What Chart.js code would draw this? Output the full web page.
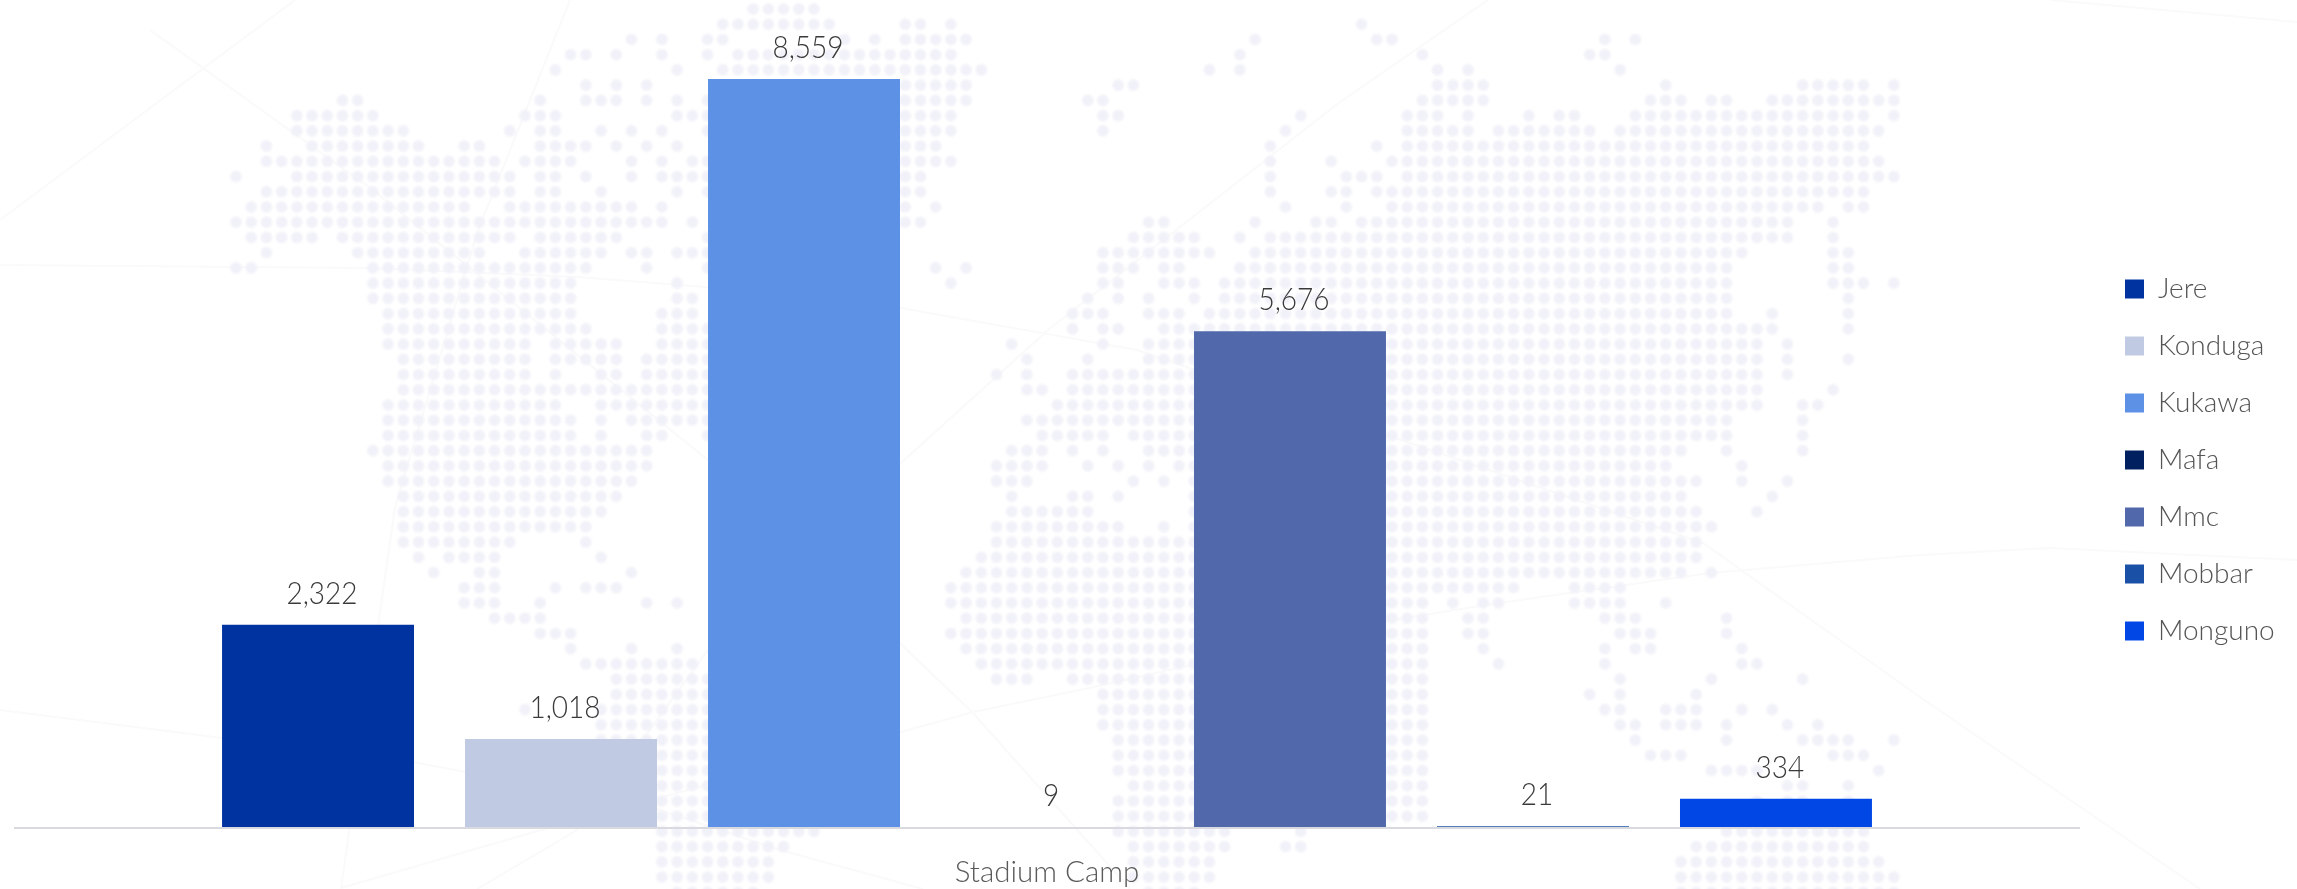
<!DOCTYPE html>
<html><head><meta charset="utf-8">
<style>html,body{margin:0;padding:0;background:#fff}canvas{display:block}</style>
<script src="https://cdn.jsdelivr.net/npm/chart.js@4"></script>
</head><body><canvas id="c" width="2297" height="889"></canvas>
<script>
const categories = ['Stadium Camp'];
const seriesNames = ['Jere','Konduga','Kukawa','Mafa','Mmc','Mobbar','Monguno'];
const seriesValues = [2322,1018,8559,9,5676,21,334];
const seriesColors = ['#0033a0','#c1cae3','#5c91e6','#00205f','#5168ab','#1a50a5','#0047e6'];
const FONT = 'Lato';

// decorative dotted world map behind the chart: occupied columns per row
const mapRows = [
"34-38","32-39 44-45 47 74","26 28 31-32 40 42 44-48 67 75-76 90 92","22-23 25 28 31 33-47 66 78 89-90",
"21 29 32-49 64 66 79 81 91","23 25 27 44-48 58-59 79-82 94 103-107 109","7-8 20 23-25 27 29 31 44-48 56-57 78-82 93-95 97-98 101-109",
"4-9 19-21 29-31 44-47 57-58 70 77-79 81 85 87-88 92-107 109","4-11 18 20-21 24 26 28 31 44-47 57 69 77-81 83-89 91-108",
"2 5-12 15-16 20-23 25 27 29 44-46 68 75 77-107","2-17 19-22 26 28 30-31 44-47 68 72 76-108","0 4-18 20-21 23 26 28-31 44-45 68 73-75 77-109",
"2-18 20-21 24 29 31 44-45 68 72-73 75-107","1-15 18-26 28 44 46 69 73 76-104 106-107","0-28 30 44-45 60-61 67 71-72 74-102 105",
"1-5 7-18 20-25 31 59-63 66 68-102 105","2 8-16 19-24 26-27 29-31 57-64 67-99 105-106","0-1 9-23 27 31 46 48 57-59 61-62 66-98 105-106",
"9-22 29 47 57-58 61-63 65-98 105-107 109","9-22 29-30 56 58 60 63 65-98 106","10-22 28-30 55-57 60-62 64-98 101 106",
"10-23 28-31 55 57-58 61-101 106","10-19 21-25 28-31 51 57 60-100 102","11-19 21-25 27-31 52 56 60-100 102 106",
"11-19 21 24-25 27-31 50 52 55-100 102","11-31 52-53 55-100 105","10-21 24-31 54-100 103-104","10-22 24 26-31 52-98 103","10-22 24 27-28 31 53-57 59-98 103",
"9-27 51-53 55 57 60-95 98 103","10-27 50-53 56 58 60 62-94 99","10-26 50-52 59 61 63-96 99 102","11-25 51 55-56 58 63-95 101",
"11-24 51-56 63-96 100","11-23 50-58 61 63-97","11-18 23 50-96","12 14-17 24 49-96","13 16-17 26 48-95 97","15-17 21 23-25 47-84 88-91",
"15-17 20 27 29 47-78 80 82-83 88-91 94","17-20 48-78 81-82 90-92 98","20-22 47-78 81-82 91-93 98","22 26 29 48-78 82 90 92-93 99","23-30 49-78 83 90 99-100",
"25-31 50-52 55-78 91 97 103","25-31 57-78 89 91 96","19 24-31 57-78 90-91 94-96 99 101","24-31 57-78 91-92 94-96 98 102 104","24-31 58-78 92 98 103-106 109",
"28-31 58-78 93-95 105-107","28-31 58-78 97-100 108","28-31 59-78 102-103 106","28-31 58-78 100 102-103 106","28-31 58-78",
"28-38 58-65 70 98-107","28-36 59-65 69-70 96-107","28-35 59-64 95-108","28-35 59-64 95-109","29-34 60-63 95-109"];

// decorative faint curves behind the map
const bgLines = [
 [[0,220],[295,0]],
 [[150,30],[373,190],[708,460],[973,713],[1130,889]],
 [[570,0],[477,233],[395,507],[341,889]],
 [[0,265],[370,268],[577,277],[706,287],[901,308],[1137,350],[1703,543],[1920,697],[2200,889]],
 [[477,889],[577,830],[708,650],[901,463],[1048,330],[1340,102],[1488,0]],
 [[341,888],[541,830],[901,732],[973,712],[1094,687],[1386,621],[1499,603],[1710,573],[1920,555],[2050,548],[2297,560]],
 [[2051,0],[2297,22]],
 [[0,710],[413,762],[466,772],[645,805],[780,850],[923,889]]
];

const backdrop = {
  id:'backdrop',
  beforeDraw(chart){
    const g = chart.ctx;
    g.save();
    g.fillStyle='#ffffff'; g.fillRect(0,0,chart.width,chart.height);
    g.strokeStyle='#fafafb'; g.lineWidth=2;
    bgLines.forEach(l=>{g.beginPath();l.forEach((p,i)=>i?g.lineTo(p[0],p[1]):g.moveTo(p[0],p[1]));g.stroke();});
    g.filter='blur(0.8px)';
    g.fillStyle='#f1f1f9';
    g.beginPath();
    mapRows.forEach((row,r)=>{
      row.split(' ').forEach(span=>{
        const [a,b]=span.split('-').map(Number);
        for(let c=a;c<=(b===undefined?a:b);c++){
          const x=236+c*15.21,y=9+r*15.23;
          g.moveTo(x+5.8,y);g.arc(x,y,5.8,0,Math.PI*2);
        }
      });
    });
    g.fill();
    g.restore();
  }
};

const valueLabels = {
  id:'valueLabels',
  afterDatasetsDraw(chart){
    const g = chart.ctx;
    chart.data.datasets.forEach((ds,i)=>{
      const el = chart.getDatasetMeta(i).data[0];
      g.save();
      g.font='300 28px '+FONT; g.fillStyle='#3a3a3a'; g.textAlign='center'; g.textBaseline='alphabetic';
      g.translate(el.x+4, el.y-21);
      g.scale(1,1.12);
      g.fillText(ds.data[0].toLocaleString('en-US'),0,0);
      g.restore();
    });
  }
};

const moveLegend = {
  id:'moveLegend',
  afterLayout(chart){
    const lg = chart.legend, p = lg.options.labels.padding;
    lg.left = 2125 - p; lg.top = 275 - p; lg.right = 2297; lg.bottom = 889;
  }
};

new Chart(document.getElementById('c'),{
  type:'bar',
  data:{
    labels:categories,
    datasets:seriesNames.map((n,i)=>({label:n,data:[seriesValues[i]],backgroundColor:seriesColors[i],
      categoryPercentage:0.8237,barPercentage:0.79,inflateAmount:0}))
  },
  plugins:[backdrop,valueLabels,moveLegend],
  options:{
    responsive:false,animation:false,
    layout:{padding:{left:14.5,right:217.5,top:0,bottom:0}},
    scales:{
      x:{grid:{display:false,drawTicks:false},border:{color:'#d9d9e0',width:2,z:1},
         ticks:{color:'#5a5a5a',font:{family:FONT,size:29.5,weight:'300'},padding:27},
         afterFit(s){s.height=61;}},
      y:{display:false,min:0,max:9462}
    },
    plugins:{
      tooltip:{enabled:false},
      legend:{position:'chartArea',align:'start',
        labels:{boxWidth:19,boxHeight:19,padding:29,color:'#555555',font:{family:FONT,size:28,weight:'300'}}}
    }
  }
});
</script></body></html>
